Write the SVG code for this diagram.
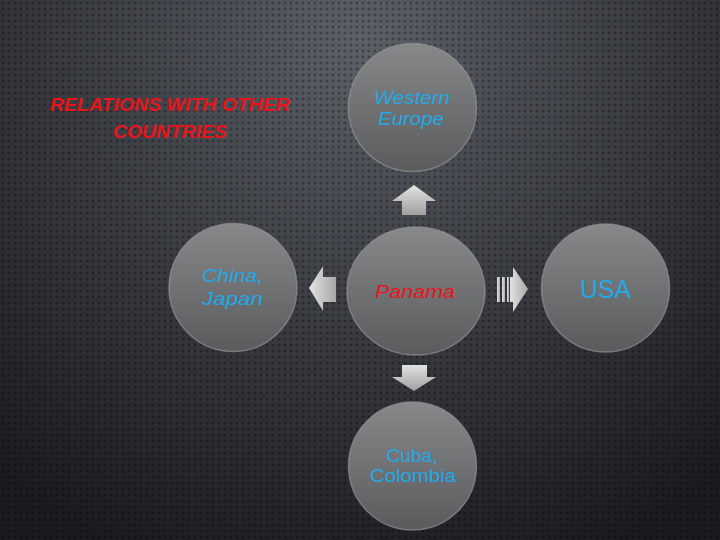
<svg xmlns="http://www.w3.org/2000/svg" width="720" height="540" viewBox="0 0 720 540">
<defs>
<radialGradient id="bg" cx="360" cy="40" r="560" gradientUnits="userSpaceOnUse">
<stop offset="0" stop-color="#5c6168"/>
<stop offset="0.5" stop-color="#3a3d42"/>
<stop offset="1" stop-color="#1a1c1f"/>
</radialGradient>
<pattern id="dots" width="6" height="6" patternUnits="userSpaceOnUse">
<circle cx="3" cy="3" r="1.6" fill="#000" fill-opacity="0.28"/>
</pattern>
<linearGradient id="node" x1="0" y1="0" x2="0" y2="1">
<stop offset="0" stop-color="#87888a"/>
<stop offset="1" stop-color="#5a5b5d"/>
</linearGradient>
<linearGradient id="arr" x1="0" y1="0" x2="0" y2="1">
<stop offset="0" stop-color="#e2e2e2"/>
<stop offset="1" stop-color="#a0a0a0"/>
</linearGradient>
<linearGradient id="arrh" x1="0" y1="0" x2="1" y2="0">
<stop offset="0" stop-color="#e2e2e2"/>
<stop offset="1" stop-color="#a8a8a8"/>
</linearGradient>
</defs>
<style>
.n{fill:url(#node);stroke:#9a9b9d;stroke-opacity:0.6;stroke-width:1.5}
.t{font-family:"Liberation Sans","DejaVu Sans",sans-serif}
.cy{fill:#22a9e6}
.rd{fill:#e8141b}
.it{font-style:italic}
.b{font-weight:bold}
</style>
<rect width="720" height="540" fill="url(#bg)"/>
<rect width="720" height="540" fill="url(#dots)"/>
<g id="title">
<text class="t rd it b" x="170" y="111" font-size="18" text-anchor="middle" textLength="240" lengthAdjust="spacingAndGlyphs">RELATIONS WITH OTHER</text>
<text class="t rd it b" x="170" y="138" font-size="18" text-anchor="middle" textLength="114" lengthAdjust="spacingAndGlyphs">COUNTRIES</text>
</g>
<g id="connectors">
<path d="M414,185 L436,201 L426,201 L426,215 L402,215 L402,201 L392,201 Z" fill="url(#arr)"/>
<path d="M309,288 L323,266 L323,277 L336,277 L336,302 L323,302 L323,311 Z" fill="url(#arrh)"/>
<g fill="url(#arrh)">
<path d="M528,289 L513,267 L513,277 L510,277 L510,302 L513,302 L513,312 Z"/>
<rect x="497" y="277" width="3" height="25"/>
<rect x="502" y="277" width="3" height="25"/>
<rect x="507" y="277" width="2" height="25"/>
</g>
<path d="M414,391 L436,377 L427,377 L427,365 L402,365 L402,377 L392,377 Z" fill="url(#arr)"/>
</g>
<g id="western-europe">
<circle class="n" cx="412.5" cy="107.5" r="64"/>
<text class="t cy it" x="374" y="104" font-size="18" textLength="76" lengthAdjust="spacingAndGlyphs">Western</text>
<text class="t cy it" x="378" y="125" font-size="18" textLength="66" lengthAdjust="spacingAndGlyphs">Europe</text>
</g>
<g id="china-japan">
<circle class="n" cx="233" cy="287.5" r="64"/>
<text class="t cy it" x="202" y="282" font-size="18" textLength="61" lengthAdjust="spacingAndGlyphs">China,</text>
<text class="t cy it" x="202" y="305" font-size="18" textLength="61" lengthAdjust="spacingAndGlyphs">Japan</text>
</g>
<g id="panama">
<ellipse class="n" cx="416" cy="291" rx="69" ry="64"/>
<text class="t rd it" x="375" y="298" font-size="18" textLength="80" lengthAdjust="spacingAndGlyphs">Panama</text>
</g>
<g id="usa">
<circle class="n" cx="605.5" cy="288" r="64"/>
<text class="t cy" x="605.5" y="298" font-size="26" text-anchor="middle" textLength="51" lengthAdjust="spacingAndGlyphs">USA</text>
</g>
<g id="cuba-colombia">
<circle class="n" cx="412.5" cy="466" r="64"/>
<text class="t cy" x="412" y="462" font-size="18" text-anchor="middle" textLength="51" lengthAdjust="spacingAndGlyphs">Cuba,</text>
<text class="t cy" x="413" y="482" font-size="18" text-anchor="middle" textLength="86" lengthAdjust="spacingAndGlyphs">Colombia</text>
</g>
</svg>
